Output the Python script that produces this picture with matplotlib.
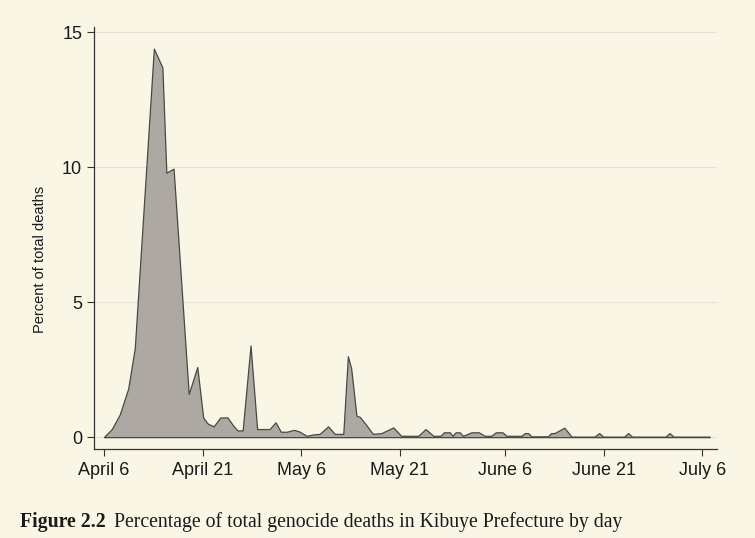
import matplotlib
matplotlib.use("Agg")
import matplotlib.pyplot as plt

# Days since April 6, 1994 and percent of total deaths
days = [0, 1.2, 2.4, 3.7, 4.7, 7.6, 8.9, 9.5, 10.6, 12.9, 14.2, 15.1, 15.8, 16.7,
        17.7, 18.8, 19.6, 20.3, 21.1, 22.3, 23.3, 25.2, 26.1, 26.9, 27.8, 28.9,
        29.8, 30.8, 31.8, 32.8, 34.1, 35.1, 36.4, 37.1, 37.6, 38.4, 38.9, 39.9,
        40.9, 42.2, 44.0, 45.2, 47.8, 48.9, 50.1, 51.2, 51.7, 52.6, 53.0, 53.5,
        54.1, 54.6, 55.9, 57.0, 57.9, 58.9, 59.6, 60.6, 61.2, 63.5, 64.0, 64.5,
        65.0, 67.5, 68.0, 68.5, 70.0, 71.1, 74.6, 75.3, 75.9, 79.1, 79.7, 80.3,
        85.4, 86.0, 86.6, 92.1]
pct = [0, 0.3, 0.83, 1.8, 3.3, 14.4, 13.7, 9.8, 9.95, 1.6, 2.6, 0.73, 0.5, 0.4,
       0.73, 0.73, 0.45, 0.25, 0.25, 3.4, 0.3, 0.3, 0.55, 0.2, 0.2, 0.27,
       0.2, 0.05, 0.1, 0.12, 0.4, 0.12, 0.12, 3.0, 2.55, 0.8, 0.75, 0.45,
       0.12, 0.15, 0.36, 0.05, 0.05, 0.3, 0.05, 0.05, 0.18, 0.18, 0.05, 0.18,
       0.18, 0.05, 0.18, 0.18, 0.05, 0.05, 0.18, 0.18, 0.05, 0.05, 0.15, 0.15,
       0.03, 0.03, 0.15, 0.15, 0.35, 0.02, 0.02, 0.15, 0.02, 0.02, 0.15, 0.02,
       0.02, 0.15, 0.02, 0.02]

tick_days = [0, 15, 30, 45, 61, 76, 91]
tick_labels = ["April 6", "April 21", "May 6", "May 21", "June 6", "June 21", "July 6"]
y_ticks = [0, 5, 10, 15]

bg = "#f9f6e6"
fill_col = "#aea8a3"
edge_col = "#4a4845"

fig = plt.figure(figsize=(7.55, 5.38), dpi=100, facecolor=bg)
ax = fig.add_axes([0.1245, 0.1654, 0.825, 0.7844], facecolor=bg)

ax.fill_between(days, pct, 0, facecolor=fill_col, edgecolor=edge_col, linewidth=0.9)

ax.set_xlim(-1.5, 93.2)
ax.set_ylim(-0.44, 15.2)
ax.set_xticks(tick_days)
ax.set_xticklabels(tick_labels)
ax.set_yticks(y_ticks)
ax.yaxis.grid(True, color="#e6e3d4", linewidth=0.8)
ax.set_axisbelow(True)

for side in ["top", "right"]:
    ax.spines[side].set_visible(False)
for side in ["left", "bottom"]:
    ax.spines[side].set_color("#333333")
    ax.spines[side].set_linewidth(0.9)

ax.tick_params(axis="both", colors="#333333", labelcolor="#1a1a1a",
               labelsize=13, length=5, width=0.8)
ax.tick_params(axis="x", pad=4)
for lab in ax.get_xticklabels() + ax.get_yticklabels():
    lab.set_fontfamily("Liberation Sans")
ax.set_ylabel("Percent of total deaths", fontsize=10.5, family="Liberation Sans",
              color="#1a1a1a")
ax.yaxis.set_label_coords(-0.075, 0.45)

# caption under the chart
t1 = fig.text(20 / 755, 1 - 527 / 538, "Figure 2.2", family="Liberation Serif",
              fontweight="bold", fontsize=14.2, color="#1a1a1a")
fig.canvas.draw()
bb = t1.get_window_extent(fig.canvas.get_renderer())
fig.text((bb.x1 + 8) / 755, 1 - 527 / 538,
         "Percentage of total genocide deaths in Kibuye Prefecture by day",
         family="Liberation Serif", fontsize=14.2, color="#1a1a1a")

fig.savefig("out.png", dpi=100, facecolor=bg)
